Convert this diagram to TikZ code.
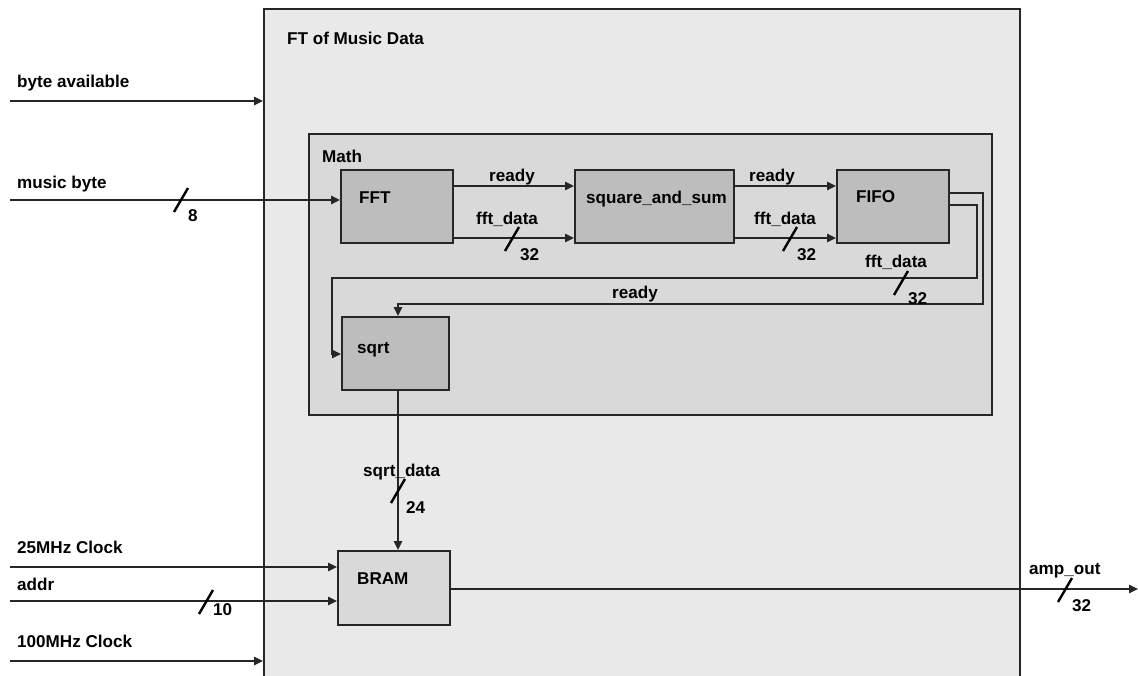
\documentclass[tikz,border=0pt]{standalone}
\usepackage{fontspec}
\setmainfont{Liberation Sans}
\usetikzlibrary{arrows.meta,calc}
\definecolor{outerfill}{HTML}{E9E9E9}
\definecolor{mathfill}{HTML}{D9D9D9}
\definecolor{blockfill}{HTML}{BDBDBD}
\definecolor{ink}{HTML}{262626}
\newcommand\busslash[1]{\draw[slashline] ($(#1)+(-7,12)$) -- ($(#1)+(7,-12)$);}
\begin{document}
\begin{tikzpicture}[x=1pt,y=-1pt,
  lbl/.style={font=\fontsize{17.1}{19}\selectfont\bfseries, inner sep=0pt, anchor=base west, text=black},
  box/.style={draw=ink, line width=1.7pt, inner sep=0pt, anchor=north west},
  conn/.style={draw=ink, line width=1.5pt},
  arr/.style={conn, -{Triangle[length=9pt,width=8.5pt]}},
  slashline/.style={draw=black, line width=2.4pt}]
\useasboundingbox (0,0) rectangle (1138,675);
% outer block
\node[box, fill=outerfill, minimum width=756pt, minimum height=720pt] (ft) at (263,8) {};
\node[lbl] (ftlbl) at (287,44) {FT of Music Data};
% math block
\node[box, fill=mathfill, minimum width=683pt, minimum height=281pt] (math) at (308,133) {};
\node[lbl] (mathlbl) at (322,162) {Math};
% blocks
\node[box, fill=blockfill, minimum width=112pt, minimum height=73pt] (fft) at (340,169) {};
\node[lbl] (fftlbl) at (359,203) {FFT};
\node[box, fill=blockfill, minimum width=159pt, minimum height=73pt] (sq) at (574,169) {};
\node[lbl] (sqlbl) at (586,203) {square\_and\_sum};
\node[box, fill=blockfill, minimum width=112pt, minimum height=73pt] (fifo) at (836,169) {};
\node[lbl] (fifolbl) at (856,202) {FIFO};
\node[box, fill=blockfill, minimum width=107pt, minimum height=73pt] (sqrt) at (341,316) {};
\node[lbl] (sqrtlbl) at (357,353) {sqrt};
\node[box, fill=mathfill, minimum width=112pt, minimum height=74pt] (bram) at (337,550) {};
\node[lbl] (bramlbl) at (357,584) {BRAM};
% free ends
\coordinate (inBA) at (10,101);
\coordinate (inMB) at (10,200);
\coordinate (in25) at (10,567);
\coordinate (inAddr) at (10,601);
\coordinate (in100) at (10,661);
\coordinate (outAmp) at (1138,589);
% inputs
\draw[arr] (inBA) -- (ft.west |- inBA);
\node[lbl] (ba) at (17,87) {byte available};
\draw[arr] (inMB) -- (fft.west |- inMB);
\node[lbl] (mb) at (17,188) {music byte};
\busslash{181,200}
\node[lbl] (mbw) at (188,221) {8};
% FFT -> square_and_sum
\draw[arr] (fft.east |- 0,186) -- (sq.west |- 0,186);
\node[lbl] (r1) at (489,181) {ready};
\draw[arr] (fft.east |- 0,238) -- (sq.west |- 0,238);
\node[lbl] (d1) at (476,224) {fft\_data};
\busslash{512,239}
\node[lbl] (w1) at (520,260) {32};
% square_and_sum -> FIFO
\draw[arr] (sq.east |- 0,186) -- (fifo.west |- 0,186);
\node[lbl] (r2) at (749,181) {ready};
\draw[arr] (sq.east |- 0,238) -- (fifo.west |- 0,238);
\node[lbl] (d2) at (754,224) {fft\_data};
\busslash{790,239}
\node[lbl] (w2) at (797,260) {32};
% FIFO -> sqrt loops
\draw[arr] (fifo.east |- 0,193) -| (983,304) -| (398,316);
\node[lbl] (r3) at (612,298) {ready};
\draw[arr] (fifo.east |- 0,205) -| (977,278) -| (332,354) -- (sqrt.west |- 0,354);
\node[lbl] (d3) at (865,267) {fft\_data};
\busslash{901,283}
\node[lbl] (w3) at (908,304) {32};
% sqrt -> BRAM
\draw[arr] (398,389) -- (bram.north -| 398,0);
\node[lbl] (d4) at (363,476) {sqrt\_data};
\busslash{398,491}
\node[lbl] (w4) at (406,513) {24};
% BRAM inputs
\draw[arr] (in25) -- (bram.west |- in25);
\node[lbl] (c25) at (17,553) {25MHz Clock};
\draw[arr] (inAddr) -- (bram.west |- inAddr);
\node[lbl] (addr) at (17,590) {addr};
\busslash{206,602}
\node[lbl] (w5) at (213,615) {10};
\draw[arr] (in100) -- (ft.west |- in100);
\node[lbl] (c100) at (17,647) {100MHz Clock};
% output
\draw[arr] (bram.east |- outAmp) -- (outAmp);
\node[lbl] (amp) at (1029,574) {amp\_out};
\busslash{1065,590}
\node[lbl] (w6) at (1072,611) {32};
\end{tikzpicture}
\end{document}
